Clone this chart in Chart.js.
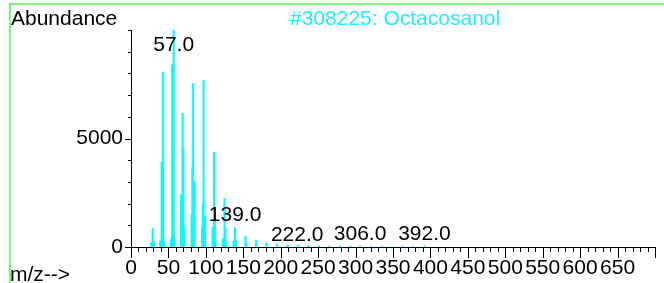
<!DOCTYPE html>
<html>
<head>
<meta charset="utf-8">
<title>Octacosanol</title>
<script src="https://cdn.jsdelivr.net/npm/chart.js@4.4.1/dist/chart.umd.min.js"></script>
<style>
  html, body { margin: 0; padding: 0; background: #fff; }
  body { width: 664px; height: 283px; overflow: hidden; position: relative;
         font-family: 'Liberation Sans', Arial, sans-serif; }
  #wrap { position: absolute; left: 0; top: 0; width: 664px; height: 283px; }
  .txt { position: absolute; font-size: 21px; line-height: 21px; white-space: nowrap; }
  #borderTop { position: absolute; left: 9px; top: 3px; width: 655px; height: 2px; background: #80f080; }
  #borderLeft { position: absolute; left: 9px; top: 3px; width: 2px; height: 280px; background: #80f080; }
</style>
</head>
<body>
<div id="wrap"><canvas id="ms"></canvas></div>
<div id="borderTop"></div>
<div id="borderLeft"></div>
<div class="txt" style="left:11px; top:7px; color:#000;">Abundance</div>
<div class="txt" style="left:290px; top:7px; color:#22eeff;">#308225: Octacosanol</div>
<div class="txt" style="left:10px; top:263px; color:#000;">m/z--&gt;</div>

<script>
// ---- spectrum values ----
const mz = [
  27, 29, 31, 39, 41, 42, 43, 44, 53, 54, 55, 56, 57, 58,
  67, 68, 69, 70, 71, 81, 82, 83, 84, 85,
  95, 96, 97, 98, 99, 109, 110, 111, 112, 113,
  123, 124, 125, 126, 127, 137, 138, 139, 140,
  153, 154, 167, 181, 195, 209, 223, 237, 251, 265, 279,
  293, 306, 321, 335, 349, 363, 377, 392,
];
const abundance = [
  200, 860, 250, 280, 3900, 700, 8060, 250, 300, 420, 8400, 3500, 10000, 400,
  2400, 1400, 6150, 4450, 900, 1500, 3700, 7530, 1500, 3000,
  900, 2000, 7680, 1000, 1400, 900, 500, 4370, 1340, 300,
  400, 400, 2230, 900, 200, 250, 300, 900, 300,
  500, 200, 320, 190, 130, 90, 80, 70, 60, 50, 50,
  40, 50, 40, 30, 30, 50, 30, 60,
];
const labeledMz = [57, 139, 222, 306, 392];
const labeledText = ['57.0', '139.0', '222.0', '306.0', '392.0'];
const xTickLabels = [0, 50, 100, 150, 200, 250, 300, 350, 400, 450, 500, 550, 600, 650];
const yTickLabels = [0, 5000];

const FONT = { family: "'Liberation Sans', Arial, sans-serif", size: 21 };

// tick marks: long on labelled values, short elsewhere
const tickMarks = {
  id: 'tickMarks',
  afterDraw(chart) {
    const { ctx, chartArea, scales } = chart;
    ctx.save();
    ctx.strokeStyle = '#000';
    ctx.lineWidth = 1;
    ctx.beginPath();
    scales.x.ticks.forEach((t) => {
      const px = Math.round(scales.x.getPixelForValue(t.value)) + 0.5;
      const len = t.value % 50 === 0 ? 11 : 5;
      ctx.moveTo(px, chartArea.bottom);
      ctx.lineTo(px, chartArea.bottom + len);
    });
    scales.y.ticks.forEach((t) => {
      const py = Math.round(scales.y.getPixelForValue(t.value)) + 0.5;
      const len = t.value % 5000 === 0 && t.value < 10000 ? 6 : 3;
      ctx.moveTo(chartArea.left - len, py);
      ctx.lineTo(chartArea.left, py);
    });
    ctx.stroke();
    ctx.restore();
  },
};

// m/z labels above selected peaks
const peakLabels = {
  id: 'peakLabels',
  afterDatasetsDraw(chart) {
    const { ctx, scales } = chart;
    ctx.save();
    ctx.font = `${FONT.size}px ${FONT.family}`;
    ctx.fillStyle = '#000';
    ctx.textAlign = 'center';
    ctx.textBaseline = 'alphabetic';
    labeledMz.forEach((m, i) => {
      const k = mz.indexOf(m);
      const ab = k >= 0 ? abundance[k] : 0;
      const px = scales.x.getPixelForValue(m);
      let py = scales.y.getPixelForValue(ab) - 6;
      py = Math.max(51, Math.min(py, 241));
      ctx.fillText(labeledText[i], px, py);
    });
    ctx.restore();
  },
};

new Chart(document.getElementById('ms'), {
  type: 'bar',
  data: {
    datasets: [{
      data: mz.map((m, i) => ({ x: m, y: abundance[i] })),
      backgroundColor: '#00ffff',
      borderWidth: 0,
      barThickness: 1.5,
    }],
  },
  options: {
    responsive: true,
    maintainAspectRatio: false,
    animation: false,
    layout: { padding: { top: 30, right: 4, left: 0, bottom: 0 } },
    plugins: { legend: { display: false }, tooltip: { enabled: false } },
    scales: {
      x: {
        type: 'linear',
        min: 0,
        max: 700,
        offset: false,
        grid: { display: true, drawOnChartArea: false, drawTicks: false, offset: false },
        border: { display: true, color: '#000', width: 1 },
        ticks: {
          stepSize: 10,
          autoSkip: false,
          maxRotation: 0,
          padding: 9,
          color: '#000',
          font: FONT,
          callback: (v) => (xTickLabels.includes(v) ? String(v) : ''),
        },
        afterFit: (s) => { s.height = 36; },
      },
      y: {
        min: 0,
        max: 10000,
        grid: { display: true, drawOnChartArea: false, drawTicks: false },
        border: { display: true, color: '#000', width: 1 },
        ticks: {
          stepSize: 1000,
          autoSkip: false,
          padding: 8,
          color: '#000',
          font: FONT,
          callback: (v) => (yTickLabels.includes(v) ? String(v) : ''),
        },
        afterFit: (s) => { s.width = 131; },
      },
    },
  },
  plugins: [tickMarks, peakLabels],
});
</script>
</body>
</html>
